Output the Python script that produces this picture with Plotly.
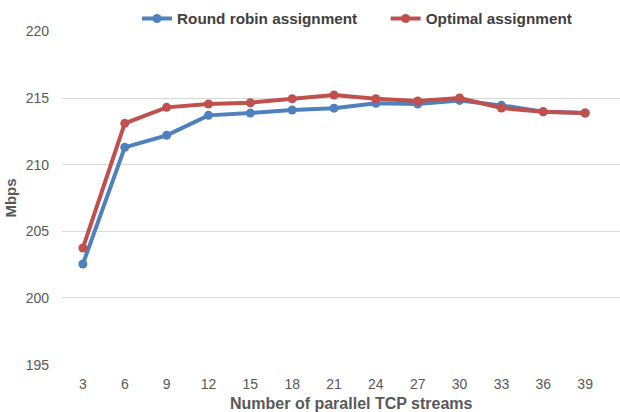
import plotly.graph_objects as go

streams = [3, 6, 9, 12, 15, 18, 21, 24, 27, 30, 33, 36, 39]
round_robin = [202.55, 211.3, 212.2, 213.7, 213.87, 214.1, 214.24, 214.6, 214.55, 214.82, 214.45, 213.97, 213.88]
optimal = [203.75, 213.1, 214.3, 214.55, 214.65, 214.95, 215.23, 214.95, 214.78, 215.0, 214.25, 213.97, 213.88]
y_ticks = [195, 200, 205, 210, 215, 220]

fig = go.Figure()
fig.add_trace(go.Scatter(x=streams, y=round_robin, mode="lines+markers",
                         name="<b>Round robin assignment</b>", legend="legend",
                         line=dict(color="#4F81BD", width=4),
                         marker=dict(color="#4F81BD", size=9)))
fig.add_trace(go.Scatter(x=streams, y=optimal, mode="lines+markers",
                         name="<b>Optimal assignment</b>", legend="legend2",
                         line=dict(color="#C0504D", width=4),
                         marker=dict(color="#C0504D", size=9)))

legend_style = dict(orientation="h", xref="container", yref="container",
                    y=0.995, xanchor="left", yanchor="top",
                    font=dict(size=15.3, color="#404040", family="Liberation Sans, Arial"),
                    bgcolor="rgba(0,0,0,0)")

fig.update_layout(
    width=620, height=412,
    margin=dict(l=62, r=0, t=31, b=47, autoexpand=False),
    paper_bgcolor="white", plot_bgcolor="white",
    font=dict(family="Liberation Sans, Arial", size=14, color="#595959"),
    legend=dict(x=0.221, **legend_style),
    legend2=dict(x=0.622, **legend_style),
    showlegend=True,
    annotations=[dict(text="<b>Number of parallel TCP streams</b>", xref="paper", yref="paper",
                      x=0.5197, y=-0.1138, xanchor="center", yanchor="middle",
                      showarrow=False, font=dict(size=16, color="#595959"))],
)
fig.update_xaxes(range=[1.5, 41.5], tickvals=streams, ticktext=[str(s) for s in streams],
                 showgrid=False, zeroline=False, showline=False, ticks="",
                 ticklabelstandoff=9)
fig.update_yaxes(range=[194.97, 220.03], tickvals=y_ticks, showgrid=True, gridcolor="#D9D9D9",
                 gridwidth=1, zeroline=False, showline=False, ticks="", ticklen=0,
                 ticklabelstandoff=12,
                 title=dict(text="<b>Mbps</b>", standoff=5, font=dict(size=15, color="#595959")))

fig.write_html("out.html", config={"displayModeBar": False},
               post_script="document.body.style.margin='0';document.body.style.padding='0';")
